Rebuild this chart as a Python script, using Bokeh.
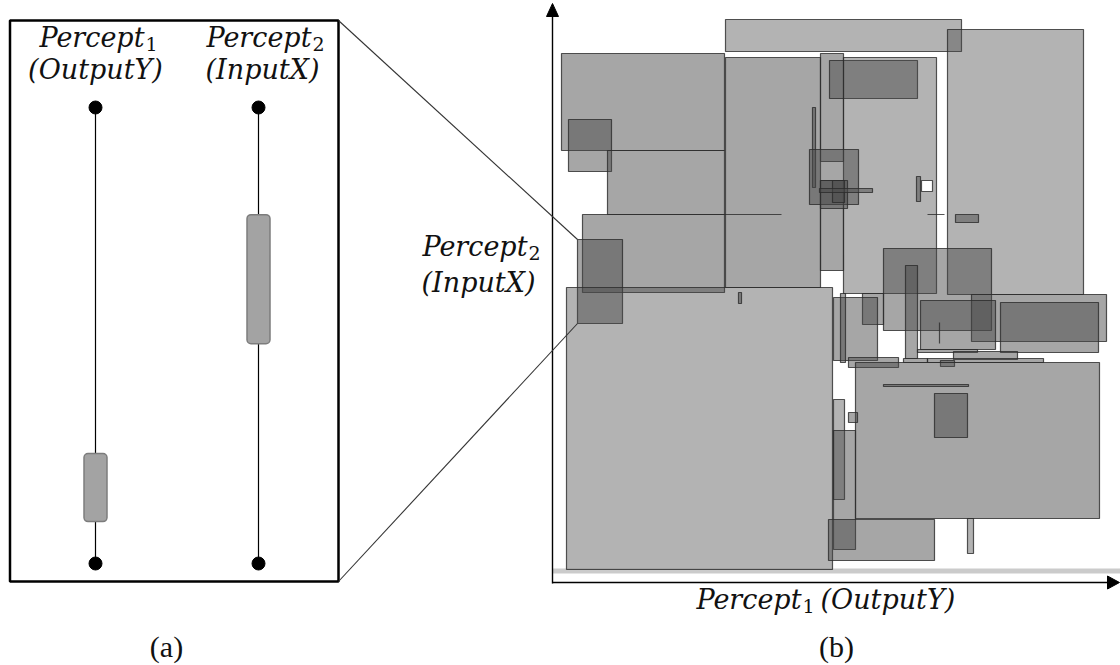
from bokeh.plotting import figure
from bokeh.models import Range1d, ColumnDataSource
from bokeh.core.properties import value
from bokeh.embed import file_html
from bokeh.resources import INLINE

# ---------------- data ----------------
# Panel (b): regions in the Percept1 (x) / Percept2 (y) plane, chart units, origin at the axes corner
region_x0 = [173,   9, 173,  16,  55,  30, 172,  25,  14, 268, 268, 260, 277, 291, 395, 257,
             268, 280, 267, 364, 369, 375, 403, 331, 353, 419, 448, 368, 387, 310, 281, 288,
             296, 351, 365, 401, 375, 388, 303, 331, 382, 296, 281, 281, 276, 415, 186]
region_x1 = [409, 172, 268,  59, 172, 172, 229,  70, 280, 291, 291, 263, 365, 384, 531, 306,
             295, 292, 320, 368, 380, 392, 426, 439, 365, 554, 546, 443, 387, 331, 325, 293,
             346, 375, 425, 465, 491, 402, 547, 416, 415, 305, 292, 303, 382, 421, 189]
region_y0 = [531, 432, 295, 411, 368, 290, 368, 259,  13, 421, 312, 395, 484, 289, 288, 378,
             374, 380, 390, 381, 391, 368, 360, 252, 224, 241, 230, 233, 239, 258, 222, 220,
             215, 220, 230, 223, 220, 216,  64, 196, 145, 160,  83,  33,  22,  29, 279]
region_y1 = [563, 529, 525, 463, 432, 368, 368, 343, 295, 529, 402, 475, 522, 525, 553, 433,
             402, 402, 394, 406, 402, 368, 368, 334, 317, 288, 280, 282, 260, 289, 285, 289,
             225, 224, 233, 231, 224, 222, 220, 198, 189, 170, 183, 152,  63,  64, 290]
region_kind = ["L", "M", "M", "M", "M", "M", "M", "M", "L", "M", "M", "M", "M", "L", "L", "M",
               "M", "M", "M", "M", "W", "M", "M", "M", "M", "M", "M", "M", "M", "M", "M", "M",
               "M", "M", "M", "M", "M", "M", "M", "M", "M", "M", "L", "M", "M", "L", "M"]

# Panel (a): the two percepts and the highlighted interval on each (0 = bottom dot, 1 = top dot)
percept_stem = ["Percept", "Percept"]
percept_index = ["1", "2"]
percept_roles = ["(OutputY)", "(InputX)"]
interval_lo = [0.092, 0.482]
interval_hi = [0.241, 0.765]

panel_labels = ["(a)", "(b)"]

# ---------------- layout ----------------
W, H = 1120, 665
OX, OY = 552, 582            # axes corner of panel (b) in page pixels
A_TOP, A_BOT = 107, 563      # dots of panel (a) in page pixels
A_SPAN = A_BOT - A_TOP
COLS = [95, 258]
TY = -10                     # text baseline correction

p = figure(width=W, height=H, output_backend="svg", toolbar_location=None,
           x_range=Range1d(0, W), y_range=Range1d(H, 0),
           min_border=0, outline_line_color=None)
p.axis.visible = False
p.grid.visible = False
p.background_fill_color = "white"
p.border_fill_color = "white"

p.extra_x_ranges = {"bx": Range1d(-OX, W - OX)}
p.extra_y_ranges = {"by": Range1d(OY - H, OY),
                    "a": Range1d((A_BOT - H) / A_SPAN, A_BOT / A_SPAN)}

# ---------------- panel (b) ----------------
alpha_of = {"L": 0.42, "M": 0.49, "W": 1.0}
color_of = {"L": "#4a4a4a", "M": "#4a4a4a", "W": "#ffffff"}
src = ColumnDataSource(dict(
    left=region_x0, right=region_x1, bottom=region_y0, top=region_y1,
    fc=[color_of[k] for k in region_kind], fa=[alpha_of[k] for k in region_kind]))

# light strip just above the x axis
p.quad(left=[0], right=[570], bottom=[9], top=[14], x_range_name="bx", y_range_name="by",
       fill_color="#cbcbcb", line_color=None)

p.quad(left="left", right="right", bottom="bottom", top="top", source=src,
       x_range_name="bx", y_range_name="by",
       fill_color="fc", fill_alpha="fa",
       line_color="#2a2a2a", line_alpha=0.8, line_width=1.2)

# axes with arrow heads
p.segment(x0=[0, 0], y0=[-1, 0], x1=[0, 556], y1=[567, 0], x_range_name="bx", y_range_name="by",
          line_color="black", line_width=1.4)
p.patch(x=[0, -6, 6], y=[579, 566, 566], x_range_name="bx", y_range_name="by",
        fill_color="black", line_color="black")
p.patch(x=[567, 555, 555], y=[0, 6.5, -6.5], x_range_name="bx", y_range_name="by",
        fill_color="black", line_color="black")

# ---------------- panel (a) ----------------
p.quad(left=[9.5], right=[338], top=[20], bottom=[581], fill_color=None,
       line_color="black", line_width=2.5)
p.segment(x0=COLS, y0=[0, 0], x1=COLS, y1=[1, 1], y_range_name="a",
          line_color="black", line_width=1.2)
p.scatter(x=COLS + COLS, y=[0, 0, 1, 1], y_range_name="a", size=13,
          fill_color="black", line_color="black")
p.quad(left=[c - 11.5 for c in COLS], right=[c + 11.5 for c in COLS],
       bottom=interval_lo, top=interval_hi, y_range_name="a",
       fill_color="#a3a3a3", line_color="#7c7c7c", line_width=1.5, border_radius=4)

# zoom connectors from panel (a) to its region in panel (b)
zx = OX + region_x0[7]
p.segment(x0=[338, 338], y0=[20, 581], x1=[zx, zx],
          y1=[OY - region_y1[7], OY - region_y0[7]],
          line_color="#333333", line_width=1.1)

# ---------------- texts ----------------
base = dict(text_baseline="alphabetic", text_color="#111111")
ital = dict(text_font=value("DejaVu Serif"), text_font_style="italic", text_font_size="27px", **base)
sub = dict(text_font=value("DejaVu Serif"), text_font_size="19px", text_align="left", **base)

# "Percept_i" stems (right-aligned at the subscript position) and their subscripts
stem_x = [144, 311, 527, 801]
stem_y = [47 + TY, 47 + TY, 256 + TY, 609 + TY]
stem_txt = percept_stem + ["Percept", "Percept"]
sub_txt = percept_index + ["2", "1"]
p.text(x=stem_x, y=stem_y, text=stem_txt, text_align="right", **ital)
p.text(x=[x + 1 for x in stem_x], y=[y + 6 for y in stem_y], text=sub_txt, **sub)

p.text(x=[95, 262], y=[79 + TY, 79 + TY], text=percept_roles, text_align="center", **ital)
p.text(x=[478], y=[292 + TY], text=["(InputX)"], text_align="center", **ital)
p.text(x=[820], y=[609 + TY], text=["(OutputY)"], text_align="left", **ital)

p.text(x=[166, 836], y=[656 + TY, 656 + TY], text=panel_labels,
       text_font=value("Liberation Serif"), text_font_size="30px",
       text_align="center", **base)

open("out.html", "w").write(file_html(p, INLINE))
